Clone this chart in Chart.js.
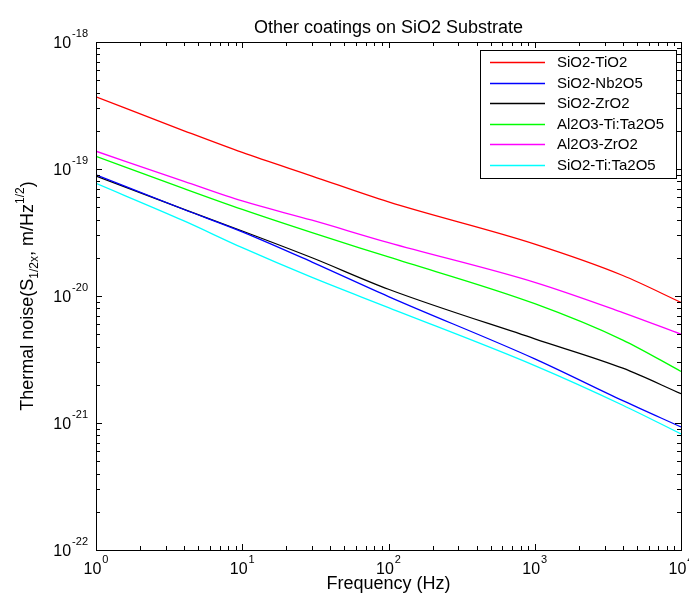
<!DOCTYPE html>
<html>
<head>
<meta charset="utf-8">
<script src="https://cdn.jsdelivr.net/npm/chart.js@4/dist/chart.umd.min.js"></script>
<style>
  body { margin: 0; background: #fff; }
</style>
</head>
<body>
<canvas id="chart" width="689" height="603"></canvas>
<script>
const freqs = [1, 4, 10, 30, 100, 1000, 4000, 10000]

const sio2Tio2   = [3.7e-19, 2.0e-19, 1.35e-19, 8.8e-20, 5.5e-20, 2.56e-20, 1.45e-20, 8.9e-21]
const sio2Nb2o5  = [9.0e-20, 4.8e-20, 3.2e-20, 1.85e-20, 9.9e-21, 3.2e-21, 1.5e-21, 9.3e-22]
const sio2Zro2   = [8.8e-20, 4.8e-20, 3.25e-20, 2.0e-20, 1.13e-20, 4.6e-21, 2.7e-21, 1.7e-21]
const al2o3TiTa  = [1.26e-19, 7.0e-20, 4.8e-20, 3.15e-20, 2.03e-20, 8.7e-21, 4.5e-21, 2.55e-21]
const al2o3Zro2  = [1.38e-19, 8.0e-20, 5.6e-20, 3.95e-20, 2.63e-20, 1.28e-20, 7.4e-21, 5.0e-21]
const sio2TiTa   = [7.7e-20, 3.9e-20, 2.4e-20, 1.4e-20, 8.1e-21, 2.83e-21, 1.38e-21, 8.2e-22]

const seriesLabels = ['SiO2-TiO2', 'SiO2-Nb2O5', 'SiO2-ZrO2', 'Al2O3-Ti:Ta2O5', 'Al2O3-ZrO2', 'SiO2-Ti:Ta2O5']
const seriesValues = [sio2Tio2, sio2Nb2o5, sio2Zro2, al2o3TiTa, al2o3Zro2, sio2TiTa]
const seriesColors = ['#ff0000', '#0000ff', '#000000', '#00ff00', '#ff00ff', '#00ffff']

const xDecades = [0, 1, 2, 3, 4]
const yDecades = [-22, -21, -20, -19, -18]

const FONT = '"Liberation Sans", Arial, sans-serif'

function drawPower(ctx, x, y, exp, align) {
    // "10" with a raised exponent
    ctx.font = '16px ' + FONT
    const baseW = ctx.measureText('10').width
    ctx.font = '11px ' + FONT
    const expW = ctx.measureText(String(exp)).width
    const total = baseW + expW + 1
    let left = x
    if (align === 'center') left = x - total / 2
    if (align === 'right') left = x - total
    ctx.textAlign = 'left'
    ctx.textBaseline = 'alphabetic'
    ctx.font = '16px ' + FONT
    ctx.fillText('10', left, y)
    ctx.font = '11px ' + FONT
    ctx.fillText(String(exp), left + baseW + 1, y - 11)
}

const matlabAxes = {
    id: 'matlabAxes',
    afterDraw(chart) {
        const ctx = chart.ctx
        const a = chart.chartArea
        const xs = chart.scales.x
        const ys = chart.scales.y
        ctx.save()
        ctx.fillStyle = '#000'
        ctx.strokeStyle = '#000'
        ctx.lineWidth = 1

        // box
        ctx.strokeRect(Math.round(a.left) + 0.5, Math.round(a.top) + 0.5,
            Math.round(a.right - a.left), Math.round(a.bottom - a.top))

        // x ticks, inward, bottom and top
        xDecades.forEach(d => {
            for (let k = 1; k <= 9; k++) {
                const v = k * Math.pow(10, d)
                if (v > xs.max) break
                const px = Math.round(xs.getPixelForValue(v)) + 0.5
                const len = k === 1 ? 6 : 4
                ctx.beginPath()
                ctx.moveTo(px, a.bottom); ctx.lineTo(px, a.bottom - len)
                ctx.moveTo(px, a.top); ctx.lineTo(px, a.top + len)
                ctx.stroke()
            }
        })
        // y ticks, inward, left and right
        yDecades.forEach(d => {
            for (let k = 1; k <= 9; k++) {
                const v = k * Math.pow(10, d)
                if (v > ys.max * 1.0001) break
                const py = Math.round(ys.getPixelForValue(v)) + 0.5
                const len = k === 1 ? 6 : 4
                ctx.beginPath()
                ctx.moveTo(a.left, py); ctx.lineTo(a.left + len, py)
                ctx.moveTo(a.right, py); ctx.lineTo(a.right - len, py)
                ctx.stroke()
            }
        })

        // tick labels
        xDecades.forEach(d => {
            const px = xs.getPixelForValue(Math.pow(10, d))
            drawPower(ctx, px, a.bottom + 24, d, 'center')
        })
        yDecades.forEach(d => {
            const py = ys.getPixelForValue(Math.pow(10, d))
            drawPower(ctx, a.left - 8, py + 6, d, 'right')
        })

        // title and x label
        ctx.textAlign = 'center'
        ctx.textBaseline = 'alphabetic'
        ctx.font = '18px ' + FONT
        ctx.fillText('Other coatings on SiO2 Substrate', (a.left + a.right) / 2, 33)
        ctx.fillText('Frequency (Hz)', (a.left + a.right) / 2, 589)

        // y label with sub/superscripts
        const parts = [
            ['Thermal noise(S', 18, 0],
            ['1/2x', 12, 5],
            [', m/Hz', 18, 0],
            ['1/2', 12, -9],
            [')', 18, 0]
        ]
        let total = 0
        parts.forEach(p => { ctx.font = p[1] + 'px ' + FONT; total += ctx.measureText(p[0]).width })
        ctx.translate(33, (a.top + a.bottom) / 2)
        ctx.rotate(-Math.PI / 2)
        ctx.textAlign = 'left'
        let cx = -total / 2
        parts.forEach(p => {
            ctx.font = p[1] + 'px ' + FONT
            ctx.fillText(p[0], cx, p[2])
            cx += ctx.measureText(p[0]).width
        })
        ctx.restore()

        // legend box
        ctx.save()
        const lx = 480, ly = 50, lw = 196, lh = 128
        ctx.fillStyle = '#fff'
        ctx.fillRect(lx, ly, lw, lh)
        ctx.strokeStyle = '#000'
        ctx.lineWidth = 1
        ctx.strokeRect(lx + 0.5, ly + 0.5, lw, lh)
        ctx.font = '15px ' + FONT
        ctx.textBaseline = 'middle'
        ctx.textAlign = 'left'
        seriesLabels.forEach((label, i) => {
            const ry = Math.round(ly + 12 + i * 20.5)
            ctx.strokeStyle = seriesColors[i]
            ctx.lineWidth = 1.3
            ctx.beginPath()
            ctx.moveTo(490, ry + 0.5)
            ctx.lineTo(545, ry + 0.5)
            ctx.stroke()
            ctx.fillStyle = '#000'
            ctx.fillText(label, 557, ry + 1)
        })
        ctx.restore()
    }
}

const zeroSize = function (scale) {
    if (scale.isHorizontal()) scale.height = 0
    else scale.width = 0
}

new Chart(document.getElementById('chart'), {
    type: 'line',
    data: {
        datasets: seriesLabels.map((label, i) => ({
            label: label,
            data: freqs.map((f, j) => ({ x: f, y: seriesValues[i][j] })),
            borderColor: seriesColors[i],
            borderWidth: 1.3,
            pointRadius: 0,
            cubicInterpolationMode: 'monotone',
            fill: false
        }))
    },
    options: {
        responsive: false,
        animation: false,
        layout: { padding: { left: 96, right: 8, top: 42, bottom: 53 } },
        plugins: {
            legend: { display: false },
            title: { display: false },
            tooltip: { enabled: false }
        },
        scales: {
            x: {
                type: 'logarithmic',
                min: 1,
                max: 10000,
                ticks: { display: false },
                grid: { display: false, drawTicks: false },
                border: { display: false },
                afterFit: zeroSize
            },
            y: {
                type: 'logarithmic',
                min: 1e-22,
                max: 1e-18,
                ticks: { display: false },
                grid: { display: false, drawTicks: false },
                border: { display: false },
                afterFit: zeroSize
            }
        }
    },
    plugins: [matlabAxes]
})
</script>
</body>
</html>
